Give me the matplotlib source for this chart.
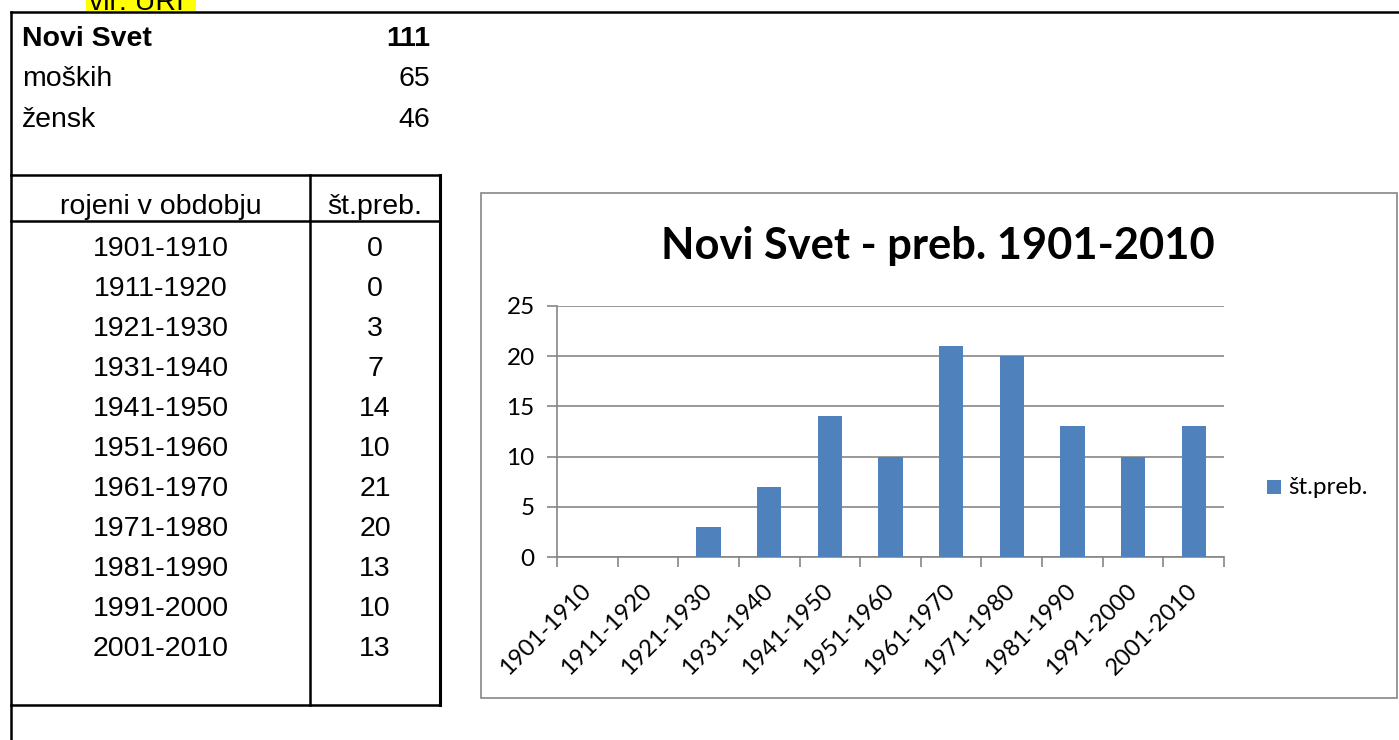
import matplotlib
matplotlib.use("Agg")
from matplotlib import pyplot as plt
from matplotlib.patches import Rectangle
import numpy as np

# data
place = "Novi Svet"
total = 111
summary_labels = ["moških", "žensk"]
summary_values = [65, 46]
periods = ["1901-1910", "1911-1920", "1921-1930", "1931-1940", "1941-1950",
           "1951-1960", "1961-1970", "1971-1980", "1981-1990", "1991-2000",
           "2001-2010"]
counts = [0, 0, 3, 7, 14, 10, 21, 20, 13, 10, 13]
col_headers = ["rojeni v obdobju", "št.preb."]
series_name = "št.preb."
chart_title = "Novi Svet - preb. 1901-2010"

W, H = 1399, 740
BAR = "#4F81BD"
GREY = "#868686"
TFONT = "Liberation Sans"
CFONT = "Lato"

fig = plt.figure(figsize=(W / 100, H / 100), dpi=100)
fig.patch.set_facecolor("white")

# background axes in pixel coords (y pointing down) for the sheet part
bg = fig.add_axes([0, 0, 1, 1])
bg.set_xlim(0, W)
bg.set_ylim(H, 0)
bg.axis("off")

def hline(y, x0, x1, lw=1.8, color="black"):
    bg.plot([x0, x1], [y, y], color=color, lw=lw, solid_capstyle="projecting")

def vline(x, y0, y1, lw=1.8, color="black"):
    bg.plot([x, x], [y0, y1], color=color, lw=lw, solid_capstyle="projecting")

# yellow source note, cut off at the top in the original too
bg.add_patch(Rectangle((86, -5), 110, 16, facecolor="#FFFF00", edgecolor="none"))
bg.text(89, 9.5, "vir: URI", fontsize=20.5, family=TFONT, va="baseline", ha="left")

# sheet borders
hline(12, 11, W + 5)
vline(11, 12, H + 5)
hline(175, 11, 440)
hline(221, 11, 440)
hline(705, 11, 440)
vline(310, 175, 705)
vline(440, 175, 705, lw=2.2)

# summary block
bg.text(22, 46, place, fontsize=20.5, family=TFONT, weight="bold", va="baseline")
bg.text(430, 46, str(total), fontsize=20.5, family=TFONT, weight="bold",
        va="baseline", ha="right")
for i, (lab, val) in enumerate(zip(summary_labels, summary_values)):
    y = 86.5 + 40.5 * i
    bg.text(22, y, lab, fontsize=20.5, family=TFONT, va="baseline")
    bg.text(430, y, str(val), fontsize=20.5, family=TFONT, va="baseline", ha="right")

# table
bg.text(161, 214, col_headers[0], fontsize=20.5, family=TFONT, va="baseline", ha="center")
bg.text(375, 214, col_headers[1], fontsize=20.5, family=TFONT, va="baseline", ha="center")
for i, (p, c) in enumerate(zip(periods, counts)):
    y = 256 + 40 * i
    bg.text(161, y, p, fontsize=20.5, family=TFONT, va="baseline", ha="center")
    bg.text(375, y, str(c), fontsize=20.5, family=TFONT, va="baseline", ha="center")

# chart frame
bg.add_patch(Rectangle((481, 193), 916, 505, facecolor="white", edgecolor=GREY, lw=1.2))
bg.text(938, 259, chart_title, fontsize=31.2, family=CFONT, weight="bold",
        ha="center", va="baseline")

# chart axes
x0, x1, ytop, ybot = 557, 1224, 306, 557
ax = fig.add_axes([x0 / W, 1 - ybot / H, (x1 - x0) / W, (ybot - ytop) / H])
ax.patch.set_alpha(0)
xs = np.arange(len(periods))
ax.bar(xs, counts, width=0.4, color=BAR, zorder=3)
ax.set_xlim(-0.5, len(periods) - 0.5)
ax.set_ylim(0, 25)
ax.set_yticks(range(0, 26, 5))
ax.yaxis.grid(True, color=GREY, lw=1.2)
ax.set_axisbelow(True)
for s in ["top", "right"]:
    ax.spines[s].set_visible(False)
for s in ["left", "bottom"]:
    ax.spines[s].set_color(GREY)
    ax.spines[s].set_linewidth(1.2)
ax.tick_params(axis="y", length=7, width=1.2, color=GREY, pad=9, labelsize=17.5)
ax.set_xticks(xs)
ax.set_xticklabels(periods, rotation=45, ha="right", va="center",
                   rotation_mode="anchor")
ax.set_xticks(np.arange(-0.5, len(periods), 1), minor=True)
ax.tick_params(axis="x", which="major", length=0, pad=22, labelsize=17)
ax.tick_params(axis="x", which="minor", length=7, width=1.2, color=GREY)
for lab in ax.get_xticklabels() + ax.get_yticklabels():
    lab.set_family(CFONT)

# legend
bg.add_patch(Rectangle((1267, 480), 14, 14, facecolor=BAR, edgecolor="none"))
bg.text(1288, 487, series_name, fontsize=17.5, family=CFONT, va="center", ha="left")

fig.savefig("out.png", dpi=100)
